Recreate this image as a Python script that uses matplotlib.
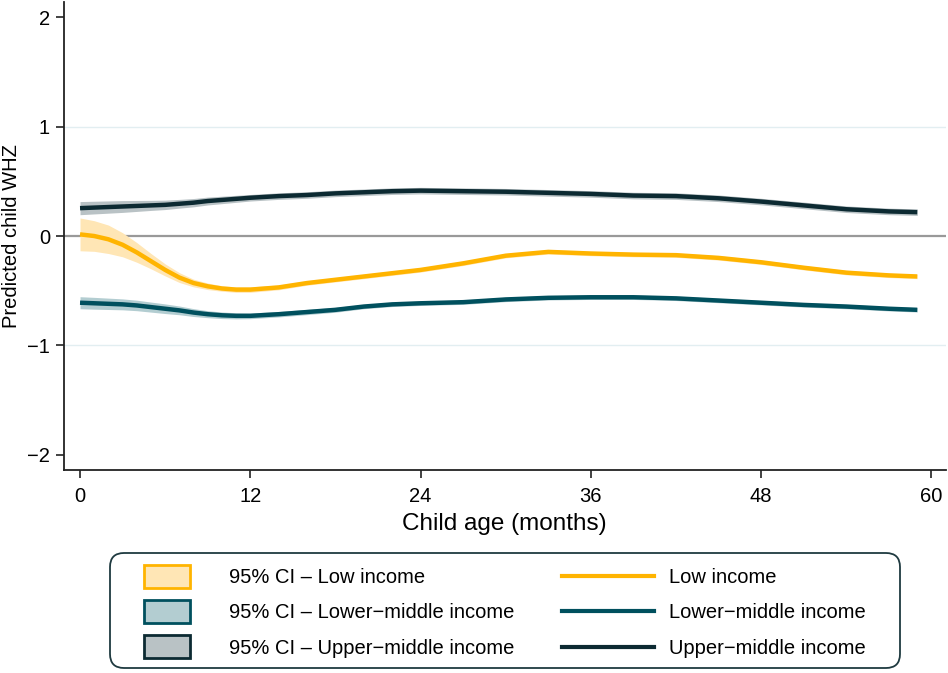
import numpy as np
import matplotlib
matplotlib.use("Agg")
import matplotlib.pyplot as plt
from matplotlib.patches import Patch, Rectangle, FancyBboxPatch
from matplotlib.lines import Line2D
from matplotlib.legend_handler import HandlerPatch
from matplotlib.transforms import IdentityTransform

plt.rcParams['font.family'] = ['Liberation Sans', 'DejaVu Sans']

# 데이터
age = np.array([0, 1, 2, 3, 4, 5, 6, 7, 8, 9, 10, 11, 12, 14, 16, 18, 20, 22, 24,
                27, 30, 33, 36, 39, 42, 45, 48, 51, 54, 57, 59])

low = np.array([0.015, 0.0, -0.03, -0.08, -0.15, -0.23, -0.31, -0.38, -0.43, -0.46,
                -0.48, -0.49, -0.49, -0.47, -0.43, -0.40, -0.37, -0.34, -0.31,
                -0.25, -0.18, -0.145, -0.16, -0.17, -0.175, -0.20, -0.24, -0.29,
                -0.335, -0.36, -0.37])
low_hw = np.array([0.15, 0.14, 0.13, 0.11, 0.09, 0.07, 0.055, 0.045, 0.035, 0.03,
                   0.025, 0.025, 0.025, 0.022, 0.02, 0.02, 0.02, 0.02, 0.02,
                   0.02, 0.02, 0.02, 0.02, 0.02, 0.02, 0.02, 0.02, 0.02,
                   0.02, 0.02, 0.02])

lmid = np.array([-0.61, -0.615, -0.62, -0.625, -0.635, -0.65, -0.665, -0.68, -0.70,
                 -0.715, -0.725, -0.73, -0.73, -0.715, -0.695, -0.675, -0.645,
                 -0.625, -0.615, -0.605, -0.58, -0.565, -0.56, -0.56, -0.57, -0.59,
                 -0.61, -0.63, -0.645, -0.665, -0.675])
lmid_hw = np.array([0.055, 0.054, 0.052, 0.05, 0.048, 0.046, 0.044, 0.04, 0.036,
                    0.032, 0.03, 0.028, 0.026, 0.025, 0.024, 0.022, 0.02, 0.02,
                    0.02, 0.02, 0.02, 0.02, 0.02, 0.02, 0.02, 0.02, 0.02, 0.02,
                    0.02, 0.02, 0.02])

umid = np.array([0.255, 0.26, 0.265, 0.27, 0.275, 0.28, 0.285, 0.295, 0.305, 0.32,
                 0.33, 0.34, 0.35, 0.365, 0.375, 0.39, 0.40, 0.41, 0.415, 0.41,
                 0.405, 0.395, 0.385, 0.37, 0.365, 0.345, 0.315, 0.28, 0.245,
                 0.225, 0.218])
umid_hw = np.array([0.06, 0.058, 0.056, 0.054, 0.05, 0.046, 0.043, 0.04, 0.038,
                    0.036, 0.034, 0.032, 0.03, 0.03, 0.03, 0.03, 0.03, 0.03, 0.03,
                    0.03, 0.03, 0.03, 0.03, 0.03, 0.03, 0.03, 0.03, 0.03, 0.03,
                    0.03, 0.03])

labels = ["Low income", "Lower\u2212middle income", "Upper\u2212middle income"]
xticks = [0, 12, 24, 36, 48, 60]
yticks = [-2, -1, 0, 1, 2]
ytick_labels = ["\u22122", "\u22121", "0", "1", "2"]

line_colors = ["#FFB400", "#00505E", "#0C2A32"]
fill_colors = ["#FFE6B5", "#B3CDD1", "#B9C2C5"]

fig = plt.figure(figsize=(9.48, 6.73), dpi=100)
ax = fig.add_axes([0.0675, 0.3016, 0.93, 0.6954])

# 기준선
ax.axhline(0, color="#999999", lw=1.6, zorder=1)
for g in [-1, 1]:
    ax.axhline(g, color="#E2EEF1", lw=1.0, zorder=0)

series = [(low, low_hw), (lmid, lmid_hw), (umid, umid_hw)]
for (m, hw), lc, fc in zip(series, line_colors, fill_colors):
    ax.fill_between(age, m - hw, m + hw, color=fc, lw=0, zorder=2)
for (m, hw), lc in zip(series, line_colors):
    ax.plot(age, m, color=lc, lw=3.2, solid_capstyle="butt", zorder=3)

ax.set_xlim(-1.13, 61.0)
ax.set_ylim(-2.14, 2.14)
ax.set_xticks(xticks)
ax.set_yticks(yticks)
ax.set_yticklabels(ytick_labels)
ax.tick_params(axis="both", direction="out", length=6, width=1.2,
               labelsize=14.5, color="#222222")
ax.tick_params(axis="x", pad=6)
ax.tick_params(axis="y", pad=4)
for s in ["top", "right"]:
    ax.spines[s].set_visible(False)
for s in ["left", "bottom"]:
    ax.spines[s].set_linewidth(1.3)
    ax.spines[s].set_color("#222222")

ax.set_xlabel("Child age (months)", fontsize=17.5, labelpad=5)
ax.set_ylabel("Predicted child WHZ", fontsize=14.5)
ax.yaxis.set_label_coords(-0.049, 0.5)


# 범례
def small_rect(legend, orig_handle, xdescent, ydescent, width, height, fontsize):
    w = width * 0.5
    return Rectangle((-xdescent + (width - w) / 2, -ydescent - 3), w, height + 6)


handles = [Patch(facecolor=fc, edgecolor=lc, lw=2)
           for fc, lc in zip(fill_colors, line_colors)]
handles += [Line2D([], [], color=lc, lw=3) for lc in line_colors]
leg_labels = ["95% CI \u2013 " + l for l in labels] + labels

# 범례 테두리 (픽셀 좌표)
box = FancyBboxPatch((110, 5), 790, 115, boxstyle="round,pad=0,rounding_size=14",
                     transform=IdentityTransform(), facecolor="white",
                     edgecolor="#1F3A40", lw=1.3)
fig.add_artist(box)

yc = 1 - 613 / 673
leg = fig.legend(handles, leg_labels, ncol=2, loc="center",
                 bbox_to_anchor=(121 / 948, yc - 0.05, (866 - 121) / 948, 0.1),
                 mode="expand", fontsize=14.5, frameon=False, handlelength=4.6,
                 handletextpad=0.75, borderpad=0.0, labelspacing=0.8,
                 borderaxespad=0.0,
                 handler_map={Patch: HandlerPatch(patch_func=small_rect)})

fig.savefig("out.png", dpi=100)
